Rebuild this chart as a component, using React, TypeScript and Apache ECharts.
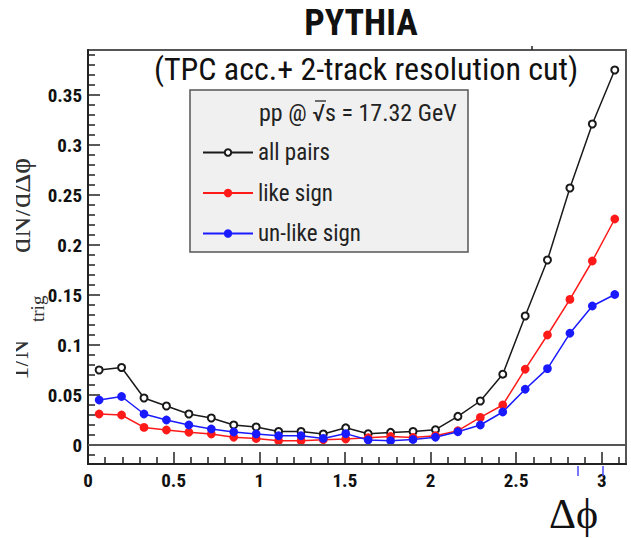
import React, { useEffect, useRef } from "react";
import * as echarts from "echarts";

// Δφ bin centres (rad) and per-trigger pair yields
const DPHI = [0.065, 0.196, 0.327, 0.458, 0.589, 0.72, 0.851, 0.982, 1.113, 1.244, 1.374, 1.505, 1.636, 1.767, 1.898, 2.029, 2.16, 2.291, 2.422, 2.553, 2.683, 2.814, 2.945, 3.076];
const ALL_PAIRS = [0.075, 0.0775, 0.047, 0.039, 0.031, 0.027, 0.02, 0.018, 0.0135, 0.0135, 0.011, 0.0172, 0.0113, 0.0126, 0.0135, 0.0153, 0.0286, 0.044, 0.0708, 0.129, 0.185, 0.257, 0.321, 0.375];
const LIKE_SIGN = [0.031, 0.03, 0.0176, 0.015, 0.0127, 0.011, 0.0077, 0.0065, 0.0043, 0.0043, 0.0053, 0.006, 0.0072, 0.0085, 0.0075, 0.0093, 0.0143, 0.0276, 0.04, 0.0758, 0.11, 0.1456, 0.184, 0.226];
const UNLIKE_SIGN = [0.045, 0.0485, 0.031, 0.025, 0.02, 0.016, 0.013, 0.011, 0.0093, 0.0093, 0.0066, 0.0114, 0.005, 0.0043, 0.0055, 0.0078, 0.0133, 0.02, 0.033, 0.0558, 0.0764, 0.1117, 0.139, 0.1505];

const SERIES_NAMES = ["all pairs", "like sign", "un-like sign"];

// axis ranges and ticks
const X_MIN = 0;
const X_MAX = Math.PI;
const Y_MIN = -0.019;
const Y_MAX = 0.395;
const X_MAJOR = [0, 0.5, 1, 1.5, 2, 2.5, 3];
const X_MINOR = [0.1, 0.2, 0.3, 0.4, 0.6, 0.7, 0.8, 0.9, 1.1, 1.2, 1.3, 1.4, 1.6, 1.7, 1.8, 1.9, 2.1, 2.2, 2.3, 2.4, 2.6, 2.7, 2.8, 2.9, 3.1];
const Y_MAJOR = [0, 0.05, 0.1, 0.15, 0.2, 0.25, 0.3, 0.35];
const Y_MINOR = [-0.01, 0.01, 0.02, 0.03, 0.04, 0.06, 0.07, 0.08, 0.09, 0.11, 0.12, 0.13, 0.14, 0.16, 0.17, 0.18, 0.19, 0.21, 0.22, 0.23, 0.24, 0.26, 0.27, 0.28, 0.29, 0.31, 0.32, 0.33, 0.34, 0.36, 0.37, 0.38, 0.39];

const NARROW = '"Liberation Sans Narrow", "Arial Narrow", "Roboto Condensed", "Liberation Sans", sans-serif';
const SERIF = '"Liberation Serif", "DejaVu Serif", serif';

const pairs = (ys: number[]) => DPHI.map((x, i) => [x, ys[i]]);

export default function App() {
  const ref = useRef<HTMLDivElement>(null);

  useEffect(() => {
    if (!ref.current) return;
    const chart = echarts.init(ref.current, null, { renderer: "svg" });

    const tickStyle = { color: "#222", width: 1.5 };
    const axisFont = { fontFamily: NARROW, fontWeight: "bold" as const, fontSize: 19, color: "#111" };

    const mainX = {
      type: "value",
      min: X_MIN,
      max: X_MAX,
      position: "bottom",
      axisLine: { show: true, onZero: false, lineStyle: { color: "#222", width: 2 } },
      axisTick: { show: true, inside: true, length: 12, customValues: X_MAJOR, lineStyle: tickStyle },
      axisLabel: { show: true, margin: 7, customValues: X_MAJOR, ...axisFont },
      splitLine: { show: false },
    };
    const minorX = {
      type: "value",
      min: X_MIN,
      max: X_MAX,
      position: "bottom",
      offset: 0,
      axisLine: { show: false, onZero: false },
      axisTick: { show: true, inside: true, length: 7, customValues: X_MINOR, lineStyle: tickStyle },
      axisLabel: { show: false },
      splitLine: { show: false },
    };
    const mainY = {
      type: "value",
      min: Y_MIN,
      max: Y_MAX,
      position: "left",
      axisLine: { show: true, onZero: false, lineStyle: { color: "#222", width: 2 } },
      axisTick: { show: true, inside: true, length: 12, customValues: Y_MAJOR, lineStyle: tickStyle },
      axisLabel: { show: true, margin: 6, customValues: Y_MAJOR, ...axisFont },
      splitLine: { show: false },
    };
    const minorY = {
      type: "value",
      min: Y_MIN,
      max: Y_MAX,
      position: "left",
      offset: 0,
      axisLine: { show: false, onZero: false },
      axisTick: { show: true, inside: true, length: 7, customValues: Y_MINOR, lineStyle: tickStyle },
      axisLabel: { show: false },
      splitLine: { show: false },
    };

    const lineSeries = (name: string, ys: number[], color: string, symbol: string, size: number) => ({
      name,
      type: "line",
      xAxisIndex: 0,
      yAxisIndex: 0,
      data: pairs(ys),
      symbol,
      symbolSize: size,
      showSymbol: true,
      lineStyle: { color, width: 1.5 },
      itemStyle: { color, borderColor: color, borderWidth: 1.8 },
      z: 3,
    });

    const allSeries: any = lineSeries(SERIES_NAMES[0], ALL_PAIRS, "#1a1a1a", "emptyCircle", 7);
    allSeries.markLine = {
      silent: true,
      symbol: "none",
      label: { show: false },
      lineStyle: { color: "#555", width: 2, type: "solid" },
      data: [{ yAxis: 0 }],
    };

    chart.setOption({
      animation: false,
      backgroundColor: "#ffffff",
      title: [
        {
          text: "PYTHIA",
          left: 356,
          top: 0,
          textAlign: "center",
          textStyle: { fontFamily: NARROW, fontWeight: "bold", fontSize: 36, color: "#111" },
        },
        {
          text: "(TPC acc.+ 2-track resolution cut)",
          left: 361,
          top: 48,
          textAlign: "center",
          textStyle: { fontFamily: NARROW, fontWeight: "normal", fontSize: 32, color: "#111" },
        },
      ],
      grid: {
        left: 88,
        right: 5,
        top: 50,
        bottom: 74,
        show: true,
        borderColor: "#555",
        borderWidth: 2,
        backgroundColor: "transparent",
      },
      xAxis: [mainX, minorX],
      yAxis: [mainY, minorY],
      legend: {
        orient: "vertical",
        left: 197,
        top: 136,
        itemWidth: 50,
        itemHeight: 8,
        itemGap: 17.5,
        z: 10,
        data: SERIES_NAMES,
        textStyle: { fontFamily: NARROW, fontSize: 23, color: "#222" },
      },
      series: [
        allSeries,
        lineSeries(SERIES_NAMES[1], LIKE_SIGN, "#ff1a1a", "circle", 7),
        lineSeries(SERIES_NAMES[2], UNLIKE_SIGN, "#1a1aff", "circle", 7),
      ],
      graphic: [
        {
          type: "rect",
          z: 5,
          shape: { x: 190, y: 90, width: 278, height: 162 },
          style: { fill: "#f0f0f0", stroke: "#555", lineWidth: 1.5 },
        },
        {
          type: "text",
          z: 6,
          x: 259,
          y: 113,
          style: {
            text: "pp @ √s = 17.32 GeV",
            fontFamily: NARROW,
            fontSize: 24,
            fill: "#222",
            textAlign: "left",
            textVerticalAlign: "middle",
          },
        },
        // vinculum of the square root
        { type: "line", z: 6, shape: { x1: 315, y1: 101, x2: 326, y2: 101 }, style: { stroke: "#222", lineWidth: 1.3 } },
        // y-axis title, reading bottom to top
        {
          type: "text",
          z: 6,
          x: 19,
          y: 380,
          rotation: Math.PI / 2,
          style: { text: "1/N", fontFamily: SERIF, fontSize: 27, fill: "#333", textAlign: "left", textVerticalAlign: "middle" },
        },
        {
          type: "text",
          z: 6,
          x: 37,
          y: 322,
          rotation: Math.PI / 2,
          style: { text: "trig", fontFamily: SERIF, fontSize: 19, fill: "#333", textAlign: "left", textVerticalAlign: "middle" },
        },
        {
          type: "text",
          z: 6,
          x: 19,
          y: 253,
          rotation: Math.PI / 2,
          style: { text: "dN/dΔϕ", fontFamily: SERIF, fontSize: 30, fill: "#333", textAlign: "left", textVerticalAlign: "middle" },
        },
        {
          type: "rect",
          z: 7,
          shape: { x: 0, y: 130, width: 16, height: 270 },
          style: { fill: "#ffffff" },
        },
        // x-axis title
        {
          type: "text",
          z: 6,
          x: 598,
          y: 514,
          style: { text: "Δϕ", fontFamily: SERIF, fontSize: 42, fill: "#111", textAlign: "right", textVerticalAlign: "middle" },
        },
        // stray marks around the frame
        { type: "line", z: 6, shape: { x1: 578, y1: 466, x2: 578, y2: 476 }, style: { stroke: "#4a4aff", lineWidth: 1.5 } },
        { type: "line", z: 6, shape: { x1: 603, y1: 466, x2: 603, y2: 476 }, style: { stroke: "#4a4aff", lineWidth: 1.5 } },
        { type: "line", z: 6, shape: { x1: 532, y1: 46, x2: 532, y2: 50 }, style: { stroke: "#222", lineWidth: 1.5 } },
      ],
    });

    return () => chart.dispose();
  }, []);

  return <div ref={ref} style={{ position: "fixed", left: 0, top: 0, width: 631, height: 538 }} />;
}
